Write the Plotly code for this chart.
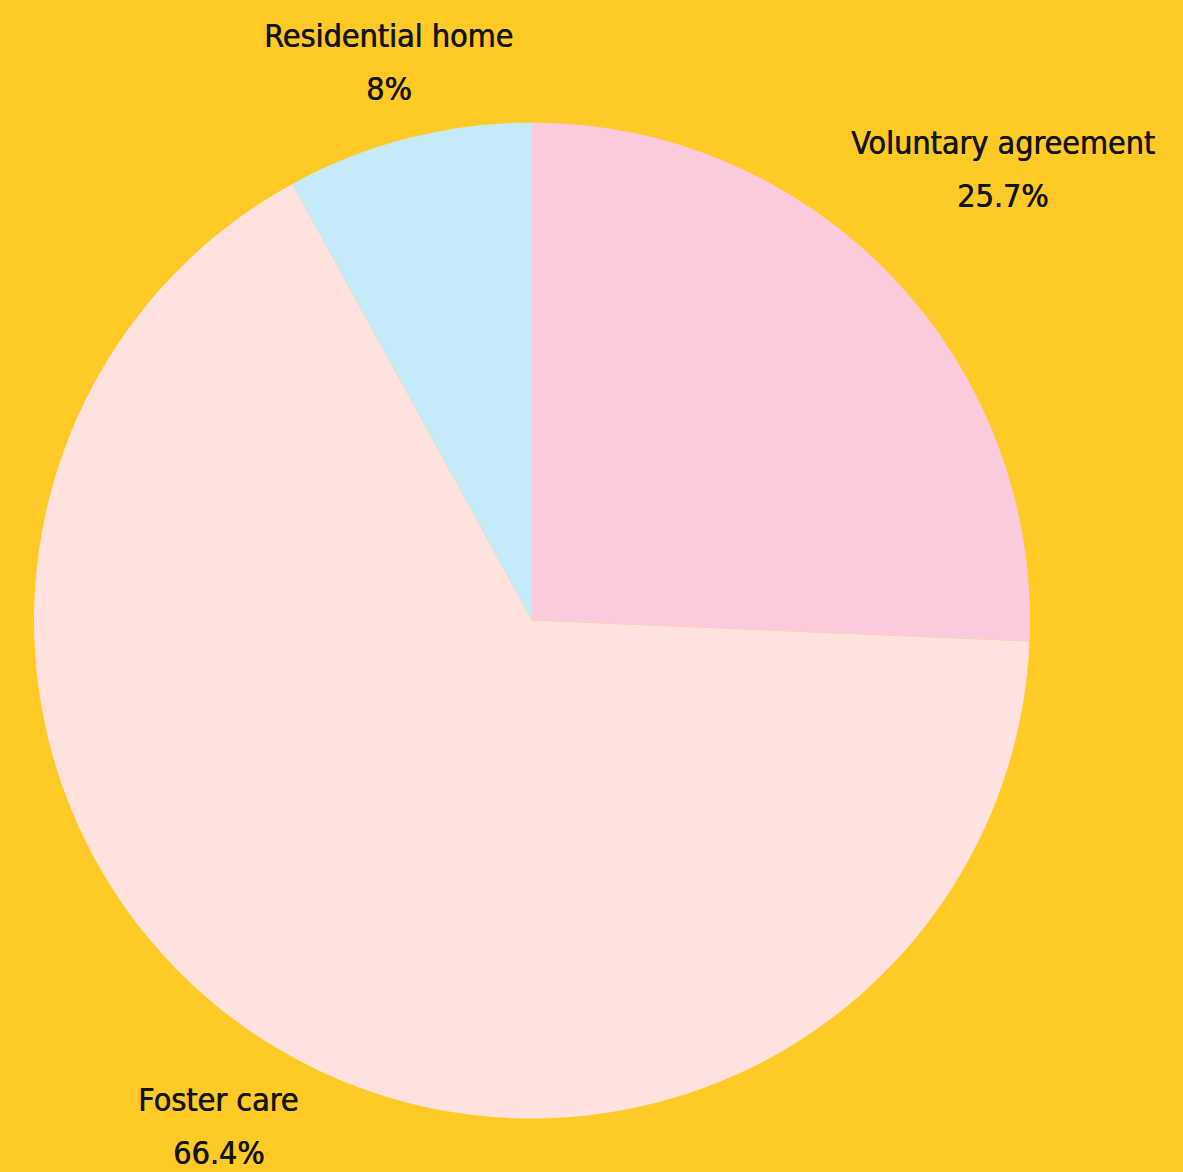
import math
import plotly.graph_objects as go

labels = ["Voluntary agreement", "Foster care", "Residential home"]
values = [25.7, 66.4, 8]
value_text = ["25.7%", "66.4%", "8%"]
colors = ["#FBCADD", "#FFE2DD", "#C5EBFB"]

W, H = 1183, 1172
cx, cy, r = 532, 620.5, 498
label_dist = [1.31, 1.195, 1.157]
line_gap = 26.5

dom_x = [(cx - r) / W, (cx + r) / W]
dom_y = [1 - (cy + r) / H, 1 - (cy - r) / H]

fig = go.Figure(go.Pie(
    labels=labels, values=values, sort=False, direction="clockwise",
    rotation=0, textinfo="none", hoverinfo="label+percent",
    marker=dict(colors=colors, line=dict(width=0)),
    domain=dict(x=dom_x, y=dom_y), showlegend=False,
))

font = dict(family="DejaVu Sans Condensed, Liberation Sans Narrow, sans-serif",
            size=32, color="#141414", shadow="0.6px 0px 0px #141414")
total = sum(values)
cum = 0
annotations = []
for lab, v, t, k in zip(labels, values, value_text, label_dist):
    mid = (cum + v / 2) / total * 2 * math.pi
    cum += v
    px = cx + k * r * math.sin(mid)
    py = cy - k * r * math.cos(mid)
    for txt, shift in ((lab, line_gap), (t, -line_gap)):
        annotations.append(dict(
            x=px / W, y=1 - py / H, xref="paper", yref="paper", yshift=shift,
            text=txt, showarrow=False, xanchor="center", yanchor="middle",
            font=font,
        ))

fig.update_layout(
    width=W, height=H, margin=dict(l=0, r=0, t=0, b=0),
    paper_bgcolor="#FFC926", plot_bgcolor="#FFC926",
    annotations=annotations,
)
fig.write_html("out.html")
